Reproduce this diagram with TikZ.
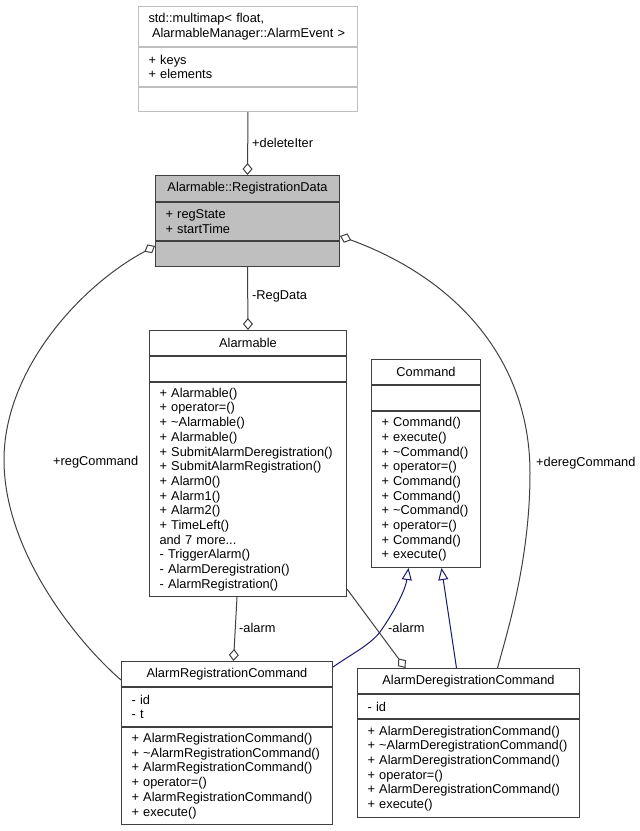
\documentclass[tikz,border=0pt]{standalone}
\usepackage{fontspec}
\setmainfont{Liberation Sans}
\usepackage{tikz}
\usetikzlibrary{arrows.meta,positioning}
\definecolor{edgegray}{HTML}{404040}
\definecolor{boxgray}{HTML}{BFBFBF}
\definecolor{navyline}{HTML}{191970}
\newcommand{\tld}{\textasciitilde}
\newcommand{\umlfont}{\fontsize{12.8}{14.7}\selectfont}

\begin{document}
\begin{tikzpicture}[x=1pt,y=-1pt,
  box/.style={draw=edgegray,line width=1pt,fill=white,inner xsep=10pt,inner ysep=2pt,font=\umlfont},
  ttl/.style={box,anchor=north west,minimum width=#1},
  sec/.style={box,text width=#1,align=left},
  lbl/.style={anchor=west,inner sep=0pt,font=\umlfont},
  assoc/.style={draw=edgegray,line width=1pt,-{Diamond[open,length=12pt,width=10pt]}},
  isa/.style={draw=navyline,line width=1pt,-{Triangle[open,length=12pt,width=10pt]}}]
\useasboundingbox (0,0) rectangle (640,831);

\node[sec=199,anchor=north west,draw=boxgray,minimum height=40pt] (mmT) at (138,6) {std::multimap< float,\\\hspace*{3.5pt}AlarmableManager::AlarmEvent >};
\node[sec=199,draw=boxgray,below=0pt of mmT,minimum height=39pt] (mmA) {+ keys\\+ elements};
\node[sec=199,draw=boxgray,below=0pt of mmA,minimum height=24pt] (mmO) {};

\node[ttl=184,fill=boxgray,minimum height=26pt] (rdT) at (155,175) {Alarmable::RegistrationData};
\node[sec=164,fill=boxgray,below=0pt of rdT,minimum height=38pt] (rdA) {+ regState\\+ startTime};
\node[sec=164,fill=boxgray,below=0pt of rdA,minimum height=25pt] (rdO) {};

\node[ttl=197,minimum height=25pt] (almT) at (149,330) {Alarmable};
\node[sec=177,below=0pt of almT,minimum height=25pt] (almA) {};
\node[sec=177,below=0pt of almA,minimum height=214pt] (almO) {+ Alarmable()\\+ operator=()\\+ \tld Alarmable()\\+ Alarmable()\\+ SubmitAlarmDeregistration()\\+ SubmitAlarmRegistration()\\+ Alarm0()\\+ Alarm1()\\+ Alarm2()\\+ TimeLeft()\\and 7 more...\\- TriggerAlarm()\\- AlarmDeregistration()\\- AlarmRegistration()};

\node[ttl=109,minimum height=25pt] (cmdT) at (371,359) {Command};
\node[sec=89,below=0pt of cmdT,minimum height=25pt] (cmdA) {};
\node[sec=89,below=0pt of cmdA,minimum height=156pt] (cmdO) {+ Command()\\+ execute()\\+ \tld Command()\\+ operator=()\\+ Command()\\+ Command()\\+ \tld Command()\\+ operator=()\\+ Command()\\+ execute()};

\node[ttl=211,minimum height=25pt] (arcT) at (121,661) {AlarmRegistrationCommand};
\node[sec=191,below=0pt of arcT,minimum height=39pt] (arcA) {- id\\- t};
\node[sec=191,below=0pt of arcA,minimum height=97pt] (arcO) {+ AlarmRegistrationCommand()\\+ \tld AlarmRegistrationCommand()\\+ AlarmRegistrationCommand()\\+ operator=()\\+ AlarmRegistrationCommand()\\+ execute()};

\node[ttl=222,minimum height=25pt] (adcT) at (357,668) {AlarmDeregistrationCommand};
\node[sec=202,below=0pt of adcT,minimum height=24pt] (adcA) {- id};
\node[sec=202,below=0pt of adcA,minimum height=98pt] (adcO) {+ AlarmDeregistrationCommand()\\+ \tld AlarmDeregistrationCommand()\\+ AlarmDeregistrationCommand()\\+ operator=()\\+ AlarmDeregistrationCommand()\\+ execute()};

\draw[assoc] (mmO.south) -- (rdT.north);
\node[lbl] (delLbl) at (252,143) {+deleteIter};

\draw[assoc] (rdO.south) -- (almT.north);
\node[lbl] (regDataLbl) at (252,296) {-RegData};

\draw[assoc] ([yshift=-6pt]arcT.west) .. controls (75,640) and (4,550) .. (4,460)
  .. controls (4,370) and (80,286) .. ([yshift=-5pt]rdO.north west);
\node[lbl] (regLbl) at (53,462) {+regCommand};

\draw[assoc] ([xshift=29pt]adcT.north) .. controls (507,633) and (530,560) .. (530,473)
  .. controls (530,363) and (460,280) .. ([yshift=5pt]rdA.south east);
\node[lbl] (deregLbl) at (536,463) {+deregCommand};

\draw[assoc] ([xshift=-11pt]almO.south) -- ([xshift=6.5pt]arcT.north);
\node[lbl] (alarmLbl) at (239,628) {-alarm};

\draw[assoc] ([yshift=8pt]almO.south east) -- ([xshift=-63pt]adcT.north);
\node[lbl] (alarmLblB) at (388,628) {-alarm};

\draw[isa] ([yshift=-6pt]arcT.north east) .. controls (350,655) and (370,645) .. (380,632)
  .. controls (392,615) and (405,592) .. ([xshift=-17.5pt]cmdO.south);
\draw[isa] ([xshift=-12pt]adcT.north) -- ([xshift=15.5pt]cmdO.south);
\end{tikzpicture}
\end{document}
